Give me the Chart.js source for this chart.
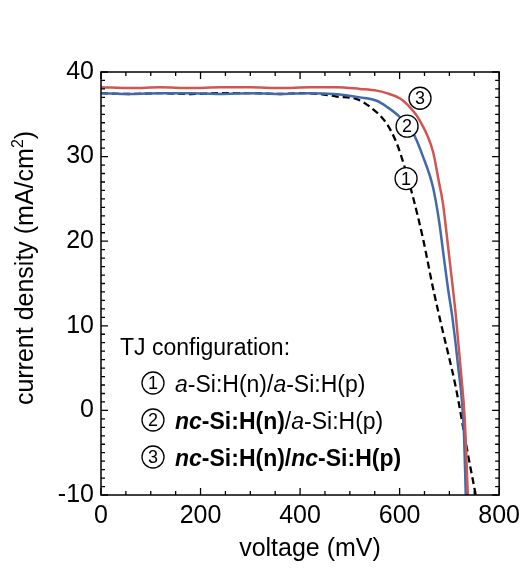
<!DOCTYPE html>
<html>
<head>
<meta charset="utf-8">
<script src="https://cdn.jsdelivr.net/npm/chart.js@4"></script>
<style>
  html, body { margin: 0; padding: 0; background: #fff; }
  #wrap { width: 526px; height: 568px; }
</style>
</head>
<body>
<div id="wrap"><canvas id="jv" width="526" height="568"></canvas></div>
<script>
const FONT = '"Liberation Sans", Arial, sans-serif';

// curve 3: nc-Si:H(n)/nc-Si:H(p)
const voltage3 = [0, 60, 120, 180, 240, 300, 360, 420, 474, 520, 554, 574, 600, 613, 640, 667, 679, 687, 695, 703, 713, 723, 731, 737];
const current3 = [38.2, 38.1, 38.2, 38.1, 38.2, 38.2, 38.1, 38.2, 38.2, 38.0, 37.8, 37.5, 36.9, 36.3, 34.3, 30.6, 27.0, 24.5, 20.6, 16.5, 11.2, 4.7, -1.2, -10];

// curve 2: nc-Si:H(n)/a-Si:H(p)
const voltage2 = [0, 60, 120, 180, 240, 300, 360, 420, 468, 520, 554, 574, 600, 627, 647, 667, 679, 688, 697, 706, 717, 729, 733];
const current2 = [37.5, 37.4, 37.5, 37.5, 37.4, 37.5, 37.4, 37.5, 37.4, 37.0, 36.6, 35.9, 34.7, 32.8, 30.0, 26.4, 22.5, 18.5, 14.5, 11.0, 5.5, -2.4, -10];

// curve 1: a-Si:H(n)/a-Si:H(p)
const voltage1 = [0, 60, 120, 180, 240, 300, 360, 400, 440, 474, 514, 540, 574, 594, 610, 627, 647, 667, 683, 713, 737, 753];
const current1 = [37.5, 37.4, 37.5, 37.4, 37.5, 37.5, 37.4, 37.5, 37.4, 37.1, 36.8, 35.9, 33.9, 31.6, 28.8, 25.2, 20.3, 14.5, 10.3, 2.7, -5.1, -10];

const xTicks = [0, 200, 400, 600, 800];
const yTicks = [-10, 0, 10, 20, 30, 40];

// circled curve labels [number, voltage, current]
const curveLabels = [[3, 641, 36.9], [2, 615, 33.6], [1, 613, 27.4]];

const pts = (xs, ys) => xs.map((v, i) => ({ x: v, y: ys[i] }));

function circleNum(ctx, n, x, y) {
  ctx.save();
  ctx.beginPath();
  ctx.arc(x, y, 11, 0, Math.PI * 2);
  ctx.fillStyle = '#fff';
  ctx.fill();
  ctx.lineWidth = 1.3;
  ctx.strokeStyle = '#000';
  ctx.stroke();
  ctx.fillStyle = '#000';
  ctx.font = '18px ' + FONT;
  ctx.textAlign = 'center';
  ctx.textBaseline = 'middle';
  ctx.fillText(String(n), x, y + 1);
  ctx.restore();
}

// text made of styled runs: [text, italic, bold]
function runs(ctx, parts, x, y, size) {
  ctx.save();
  ctx.textAlign = 'left';
  ctx.textBaseline = 'alphabetic';
  ctx.fillStyle = '#000';
  parts.forEach(p => {
    ctx.font = (p[1] ? 'italic ' : '') + (p[2] ? 'bold ' : '') + size + 'px ' + FONT;
    ctx.fillText(p[0], x, y);
    x += ctx.measureText(p[0]).width;
  });
  ctx.restore();
}

const decor = {
  id: 'decor',
  afterDatasetsDraw(chart) {
    const ctx = chart.ctx;
    const xs = chart.scales.x, ys = chart.scales.y;
    const a = chart.chartArea;

    // frame
    ctx.save();
    ctx.strokeStyle = '#000';
    ctx.lineWidth = 1.5;
    ctx.strokeRect(a.left, a.top, a.right - a.left, a.bottom - a.top);

    // inward ticks
    ctx.lineWidth = 1.3;
    ctx.beginPath();
    for (let v = 0; v <= 800; v += 50) {
      const px = xs.getPixelForValue(v);
      const len = v % 200 === 0 ? 7 : 4;
      ctx.moveTo(px, a.bottom); ctx.lineTo(px, a.bottom - len);
      ctx.moveTo(px, a.top); ctx.lineTo(px, a.top + len);
    }
    for (let v = -10; v <= 40; v += 1) {
      const py = ys.getPixelForValue(v);
      const len = v % 10 === 0 ? 7 : 4;
      ctx.moveTo(a.left, py); ctx.lineTo(a.left + len, py);
      ctx.moveTo(a.right, py); ctx.lineTo(a.right - len, py);
    }
    ctx.stroke();
    ctx.restore();

    // circled labels on curves
    curveLabels.forEach(l => circleNum(ctx, l[0], xs.getPixelForValue(l[1]), ys.getPixelForValue(l[2])));

    // configuration legend
    const lx = a.left + 19;
    runs(ctx, [['TJ configuration:', false, false]], lx, 355, 23);
    circleNum(ctx, 1, a.left + 52, 383);
    runs(ctx, [['a', true, false], ['-Si:H(n)/', false, false], ['a', true, false], ['-Si:H(p)', false, false]], a.left + 74, 392, 23);
    circleNum(ctx, 2, a.left + 52, 420);
    runs(ctx, [['nc', true, true], ['-Si:H(n)', false, true], ['/', false, false], ['a', true, false], ['-Si:H(p)', false, false]], a.left + 74, 429, 23);
    circleNum(ctx, 3, a.left + 52, 457);
    runs(ctx, [['nc', true, true], ['-Si:H(n)/', false, true], ['nc', true, true], ['-Si:H(p)', false, true]], a.left + 74, 466, 23);

    // axis titles
    ctx.save();
    ctx.fillStyle = '#000';
    ctx.font = '25px ' + FONT;
    ctx.textAlign = 'center';
    ctx.textBaseline = 'middle';
    ctx.fillText('voltage (mV)', 310, 549);

    ctx.translate(33, 268);
    ctx.rotate(-Math.PI / 2);
    ctx.textBaseline = 'alphabetic';
    ctx.textAlign = 'left';
    const t1 = 'current density (mA/cm', t2 = '2', t3 = ')';
    ctx.font = '25px ' + FONT;
    const w1 = ctx.measureText(t1).width, w3 = ctx.measureText(t3).width;
    ctx.font = '16px ' + FONT;
    const w2 = ctx.measureText(t2).width;
    let u = -(w1 + w2 + w3) / 2;
    ctx.font = '25px ' + FONT;
    ctx.fillText(t1, u, 0); u += w1;
    ctx.font = '16px ' + FONT;
    ctx.fillText(t2, u, -10); u += w2;
    ctx.font = '25px ' + FONT;
    ctx.fillText(t3, u, 0);
    ctx.restore();
  }
};

new Chart(document.getElementById('jv'), {
  type: 'scatter',
  data: {
    datasets: [
      { label: '3', data: pts(voltage3, current3), showLine: true, borderColor: '#d0564f', borderWidth: 2.5, pointRadius: 0, cubicInterpolationMode: 'monotone' },
      { label: '2', data: pts(voltage2, current2), showLine: true, borderColor: '#4169ad', borderWidth: 2.5, pointRadius: 0, cubicInterpolationMode: 'monotone' },
      { label: '1', data: pts(voltage1, current1), showLine: true, borderColor: '#000', borderWidth: 2.3, borderDash: [7, 4], pointRadius: 0, cubicInterpolationMode: 'monotone' }
    ]
  },
  options: {
    responsive: false,
    animation: false,
    layout: { padding: { left: 0, right: 22, top: 72, bottom: 0 } },
    plugins: { legend: { display: false }, tooltip: { enabled: false } },
    scales: {
      x: {
        type: 'linear', min: 0, max: 800,
        afterBuildTicks: s => { s.ticks = xTicks.map(v => ({ value: v })); },
        afterFit: s => { s.height = 73; },
        grid: { display: false, drawTicks: false },
        border: { display: false },
        ticks: { color: '#000', font: { family: FONT, size: 25 }, padding: 6, maxRotation: 0 }
      },
      y: {
        type: 'linear', min: -10, max: 40,
        afterBuildTicks: s => { s.ticks = yTicks.map(v => ({ value: v })); },
        afterFit: s => { s.width = 101; },
        grid: { display: false, drawTicks: false },
        border: { display: false },
        ticks: { color: '#000', font: { family: FONT, size: 25 }, padding: 7 }
      }
    }
  },
  plugins: [decor]
});
</script>
</body>
</html>
